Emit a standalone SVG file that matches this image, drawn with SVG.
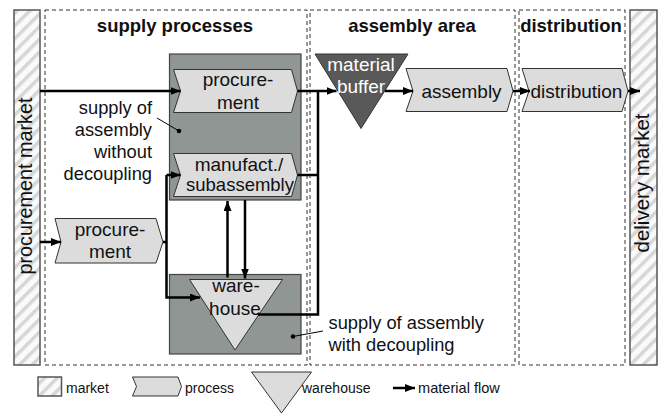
<svg xmlns="http://www.w3.org/2000/svg" width="660" height="414" viewBox="0 0 660 414">
<style>
text{font-family:"Liberation Sans",Arial,sans-serif;fill:#111}
.h{font-weight:bold;font-size:18.5px;text-anchor:middle}
.p{font-size:19px;text-anchor:middle}
.a{font-size:18.3px}
.l{font-size:14px}
.area{fill:none;stroke:#333;stroke-width:1;stroke-dasharray:4 3}
.mk{fill:url(#hatch);stroke:#555;stroke-width:1.5}
.proc{fill:#dcdcdc;stroke:#333;stroke-width:1}
.box{fill:#8f9694;stroke:#444;stroke-width:1.2}
.flow{fill:none;stroke:#000;stroke-width:2.5}
.fa{fill:none;stroke:#000;stroke-width:2.5;marker-end:url(#ah)}
.lead{fill:none;stroke:#000;stroke-width:1}
</style>
<defs>
<pattern id="hatch" width="9" height="9" patternUnits="userSpaceOnUse" patternTransform="rotate(45)">
<rect width="9" height="9" fill="#fafafa"/>
<rect width="3.5" height="9" fill="#d6d6d6"/>
</pattern>
<marker id="ah" viewBox="0 0 10 8" refX="10" refY="4" markerWidth="10" markerHeight="8" markerUnits="userSpaceOnUse" orient="auto">
<path d="M0,0 L10,4 L0,8 Z" fill="#000"/>
</marker>
</defs>

<g id="areas">
<rect class="area" x="45" y="10" width="262" height="355"/>
<rect class="area" x="310" y="10" width="205" height="355"/>
<rect class="area" x="519" y="10" width="106" height="355"/>
<text class="h" x="175" y="32">supply processes</text>
<text class="h" x="412" y="32">assembly area</text>
<text class="h" x="571" y="32">distribution</text>
</g>

<g id="procurement-market">
<rect class="mk" x="14" y="10" width="26" height="355"/>
<text transform="translate(32,186) rotate(-90)" style="font-size:19.8px;text-anchor:middle">procurement market</text>
</g>
<g id="delivery-market">
<rect class="mk" x="630" y="10" width="27" height="355"/>
<text transform="translate(649,183) rotate(-90)" style="font-size:20.5px;text-anchor:middle">delivery market</text>
</g>

<g id="box-without-decoupling">
<rect class="box" x="169.5" y="54" width="131.5" height="146"/>
</g>
<g id="box-with-decoupling">
<rect class="box" x="169.5" y="274.5" width="131.5" height="79.5"/>
</g>

<g id="proc-top">
<path class="proc" d="M173.5,69.5 L291.5,69.5 L297.5,91 L291.5,112.5 L173.5,112.5 L180.5,91 Z"/>
<text class="p" x="238" y="86">procure-</text>
<text class="p" x="238" y="108.5">ment</text>
</g>
<g id="manufact">
<path class="proc" d="M173.5,153.5 L291.5,153.5 L297.5,175 L291.5,196.5 L173.5,196.5 L180.5,175 Z"/>
<text class="p" x="239" y="170.5">manufact./</text>
<text class="p" x="240" y="191" style="font-size:18.5px">subassembly</text>
</g>
<g id="proc-left">
<path class="proc" d="M55,218.5 L156,218.5 L163,242 L156,263 L55,263 L61,242 Z"/>
<text class="p" x="110" y="236">procure-</text>
<text class="p" x="110" y="257.5">ment</text>
</g>
<g id="warehouse">
<path class="proc" d="M189.5,279.5 L282.5,279.5 L235,350 Z"/>
<text class="p" x="236" y="292">ware-</text>
<text class="p" x="235" y="315">house</text>
</g>
<g id="material-buffer">
<path d="M315,54 L408,54 L361,128.5 Z" fill="#595959" stroke="#333" stroke-width="1"/>
<text class="p" x="361" y="70.5" style="fill:#fff">material</text>
<text class="p" x="361" y="93" style="fill:#fff">buffer</text>
</g>
<g id="assembly">
<path class="proc" d="M406,68.5 L507,68.5 L513,91 L507,111.5 L406,111.5 L413,91 Z"/>
<text class="p" x="461.5" y="98">assembly</text>
</g>
<g id="distribution">
<path class="proc" d="M522,68.5 L622,68.5 L628,91 L622,111.5 L522,111.5 L529,91 Z"/>
<text class="p" x="576.5" y="98">distribution</text>
</g>

<g id="annotations">
<text class="a" x="152" y="113.5" text-anchor="end">supply of</text>
<text class="a" x="152" y="135.5" text-anchor="end">assembly</text>
<text class="a" x="152" y="157.5" text-anchor="end">without</text>
<text class="a" x="152" y="179.5" text-anchor="end">decoupling</text>
<path class="lead" d="M157,118 L179,131"/>
<circle cx="179" cy="131" r="2.3" fill="#000"/>
<text class="a" x="328.5" y="328.5">supply of assembly</text>
<text class="a" x="328.5" y="350.5">with decoupling</text>
<path class="lead" d="M323,331 L293,336.5"/>
<circle cx="293" cy="336.5" r="2.3" fill="#000"/>
</g>

<g id="connectors">
<path class="fa" d="M40,91 L180.5,91"/>
<path class="fa" d="M297.5,91 L336.5,91"/>
<path class="flow" d="M297.5,175 L318,175"/>
<path class="flow" d="M258,314.5 L318,314.5 L318,91"/>
<path class="fa" d="M40,242 L61,242"/>
<path class="flow" d="M163,242 L166.5,242"/>
<path class="fa" d="M166.5,175 L180.5,175"/>
<path class="fa" d="M166.5,175 L166.5,297.5 L200,297.5"/>
<path class="fa" d="M227.5,277.5 L227.5,201"/>
<path class="fa" d="M245,200 L245,278.5"/>
<path class="fa" d="M385,91 L413,91"/>
<path class="fa" d="M513,91 L530,91"/>
<path class="fa" d="M628,91 L640,91"/>
</g>

<g id="legend">
<rect class="mk" x="38" y="377" width="23.5" height="19"/>
<text class="l" x="66" y="393">market</text>
<path class="proc" d="M132.5,377 L178,377 L181.5,386.5 L178,396 L132.5,396 L136.5,386.5 Z"/>
<text class="l" x="185" y="393">process</text>
<path class="proc" d="M251.5,372 L311.5,372 L281.5,413 Z"/>
<text class="l" x="302" y="393">warehouse</text>
<path class="fa" d="M393,388 L415,388"/>
<text class="l" x="418" y="393" style="font-size:14.6px">material flow</text>
</g>
</svg>
